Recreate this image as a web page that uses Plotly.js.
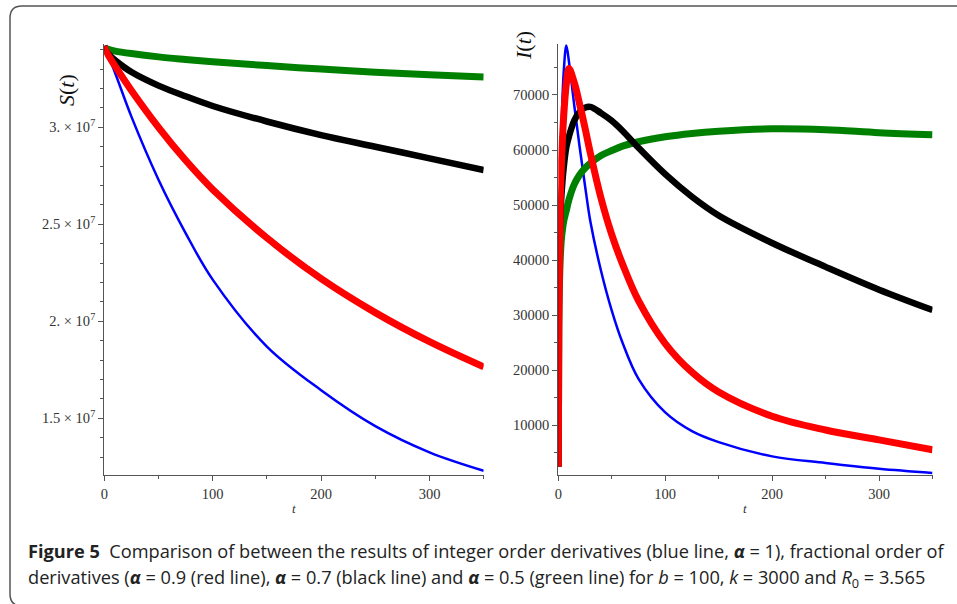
<!DOCTYPE html>
<html>
<head>
<meta charset="utf-8">
<script src="https://cdn.plot.ly/plotly-3.0.1.min.js"></script>
<style>
html,body{margin:0;padding:0;background:#fff;}
#chart{width:957px;height:604px;}
</style>
</head>
<body>
<div id="chart"></div>
<script>
// ---- Data ----
// Left panel: S(t)
const tS = [0, 1, 5, 10, 25, 50, 75, 100, 150, 200, 250, 300, 350];
const S_alpha1  = [3.42e7, 3.405e7, 3.35e7, 3.28e7, 3.055e7, 2.73e7, 2.455e7, 2.215e7, 1.87e7, 1.645e7, 1.46e7, 1.325e7, 1.23e7];
const S_alpha09 = [3.42e7, 3.40e7, 3.36e7, 3.315e7, 3.19e7, 3.00e7, 2.83e7, 2.68e7, 2.43e7, 2.22e7, 2.045e7, 1.895e7, 1.765e7];
const S_alpha07 = [3.42e7, 3.40e7, 3.37e7, 3.345e7, 3.285e7, 3.215e7, 3.16e7, 3.11e7, 3.03e7, 2.96e7, 2.90e7, 2.84e7, 2.78e7];
const S_alpha05 = [3.42e7, 3.41e7, 3.40e7, 3.393e7, 3.38e7, 3.363e7, 3.35e7, 3.338e7, 3.318e7, 3.30e7, 3.284e7, 3.271e7, 3.259e7];

// Right panel: I(t)
const tI = [0, 0.5, 1, 2, 3, 5, 7.5, 10, 15, 20, 25, 30, 40, 50, 60, 75, 100, 125, 150, 200, 250, 300, 350];
const I_alpha1  = [2400, 22000, 40000, 57000, 64000, 74000, 79000, 76000, 68000, 60500, 53500, 47000, 38000, 30800, 25000, 18400, 12300, 8900, 6900, 4300, 3100, 2050, 1300];
const I_alpha09 = [2400, 28000, 38000, 52000, 58000, 66000, 72000, 74800, 72200, 68300, 64000, 59400, 51200, 44600, 39300, 32600, 24800, 19600, 16000, 11600, 9100, 7300, 5500];
const I_alpha07 = [2400, 35000, 42000, 48500, 52000, 56700, 60500, 62500, 65400, 66900, 67700, 67850, 66700, 65300, 63500, 60400, 55600, 51500, 48100, 43100, 38750, 34600, 30900];
const I_alpha05 = [2400, 28000, 35000, 41000, 44000, 47000, 49000, 51000, 53800, 55500, 56700, 57600, 59000, 59900, 60700, 61500, 62400, 63000, 63400, 63850, 63700, 63150, 62770];

const leftYTickVals = [1.5e7, 2e7, 2.5e7, 3e7];
const leftYTickText = ['1.5 × 10<sup>7</sup>', '2. × 10<sup>7</sup>', '2.5 × 10<sup>7</sup>', '3. × 10<sup>7</sup>'];
const xTickVals = [0, 100, 200, 300];
const rightYTickVals = [10000, 20000, 30000, 40000, 50000, 60000, 70000];
const rightYTickText = ['10000', '20000', '30000', '40000', '50000', '60000', '70000'];

const series = [
  {name: 'α = 1',   color: '#0000ff', width: 2.5, S: S_alpha1,  I: I_alpha1},
  {name: 'α = 0.5', color: '#008000', width: 7,   S: S_alpha05, I: I_alpha05},
  {name: 'α = 0.7', color: '#000000', width: 6.5, S: S_alpha07, I: I_alpha07},
  {name: 'α = 0.9', color: '#ff0000', width: 7,   S: S_alpha09, I: I_alpha09}
];

// ---- Traces ----
const traces = [];
series.forEach(s => {
  traces.push({x: tS, y: s.S, xaxis: 'x', yaxis: 'y', mode: 'lines', name: s.name,
    line: {color: s.color, width: s.width, shape: 'spline', smoothing: 1.0}, showlegend: false, hoverinfo: 'skip'});
  traces.push({x: tI, y: s.I, xaxis: 'x2', yaxis: 'y2', mode: 'lines', name: s.name,
    line: {color: s.color, width: s.width, shape: 'spline', smoothing: 1.0}, showlegend: false, hoverinfo: 'skip'});
});

// ---- Layout helpers (pixel -> paper) ----
const W = 957, H = 604;
const px = v => v / W;
const py = v => 1 - v / H;

const tickFont = {family: 'Liberation Serif, Times New Roman, serif', size: 14.5, color: '#333333'};
const axisCommon = {
  showgrid: false, zeroline: false, showline: true, linecolor: '#555555', linewidth: 1.2,
  ticks: 'outside', ticklen: 5, tickcolor: '#555555', tickwidth: 1, tickfont: tickFont, fixedrange: true
};

const layout = {
  width: W, height: H,
  margin: {l: 0, r: 0, t: 0, b: 0},
  paper_bgcolor: '#ffffff', plot_bgcolor: '#ffffff',
  showlegend: false,
  xaxis: Object.assign({}, axisCommon, {
    domain: [px(104.3), px(483.7)], range: [0, 350], anchor: 'y',
    tickmode: 'array', tickvals: xTickVals,
    minor: {tickmode: 'linear', tick0: 0, dtick: 50, ticklen: 3, tickcolor: '#555555', ticks: 'outside'}
  }),
  yaxis: Object.assign({}, axisCommon, {
    domain: [py(475), py(44)], range: [1.208e7, 3.4294e7], anchor: 'x',
    tickmode: 'array', tickvals: leftYTickVals, ticktext: leftYTickText,
    minor: {tickmode: 'linear', tick0: 0, dtick: 1e6, ticklen: 3, tickcolor: '#555555', ticks: 'outside'}
  }),
  xaxis2: Object.assign({}, axisCommon, {
    domain: [px(558.3), px(932.5)], range: [0, 350], anchor: 'y2',
    tickmode: 'array', tickvals: xTickVals,
    minor: {tickmode: 'linear', tick0: 0, dtick: 50, ticklen: 3, tickcolor: '#555555', ticks: 'outside'}
  }),
  yaxis2: Object.assign({}, axisCommon, {
    domain: [py(475), py(44)], range: [916, 79270], anchor: 'x2',
    tickmode: 'array', tickvals: rightYTickVals, ticktext: rightYTickText,
    minor: {tickmode: 'linear', tick0: 0, dtick: 5000, ticklen: 3, tickcolor: '#555555', ticks: 'outside'}
  }),
  annotations: [
    {text: '<i>S</i>(<i>t</i>)', xref: 'paper', yref: 'paper', x: px(67), y: py(90), textangle: -90,
     showarrow: false, xanchor: 'center', yanchor: 'middle',
     font: {family: 'Liberation Serif, Times New Roman, serif', size: 22, color: '#111'}},
    {text: '<i>I</i>(<i>t</i>)', xref: 'paper', yref: 'paper', x: px(523), y: py(46), textangle: -90,
     showarrow: false, xanchor: 'center', yanchor: 'middle',
     font: {family: 'Liberation Serif, Times New Roman, serif', size: 22, color: '#111'}},
    {text: '<i>t</i>', xref: 'paper', yref: 'paper', x: px(294), y: py(508), showarrow: false,
     xanchor: 'center', yanchor: 'middle', font: {family: 'Liberation Serif, serif', size: 13, color: '#333'}},
    {text: '<i>t</i>', xref: 'paper', yref: 'paper', x: px(745), y: py(508), showarrow: false,
     xanchor: 'center', yanchor: 'middle', font: {family: 'Liberation Serif, serif', size: 13, color: '#333'}},
    {text: '<b>Figure 5</b>  Comparison of between the results of integer order derivatives (blue line, <b><i>α</i></b> = 1), fractional order of',
     xref: 'paper', yref: 'paper', x: px(26), y: py(551), showarrow: false, xanchor: 'left', yanchor: 'middle',
     font: {family: 'Open Sans, sans-serif', size: 18.2, color: '#222'}},
    {text: 'derivatives (<b><i>α</i></b> = 0.9 (red line), <b><i>α</i></b> = 0.7 (black line) and <b><i>α</i></b> = 0.5 (green line) for <i>b</i> = 100, <i>k</i> = 3000 and <i>R</i><sub>0</sub> = 3.565',
     xref: 'paper', yref: 'paper', x: px(26), y: py(578), showarrow: false, xanchor: 'left', yanchor: 'middle',
     font: {family: 'Open Sans, sans-serif', size: 18.2, color: '#222'}}
  ],
  shapes: [
    {type: 'path', xref: 'paper', yref: 'paper', layer: 'above',
     path: 'M ' + px(965) + ',' + py(6) + ' L ' + px(22) + ',' + py(6) +
           ' Q ' + px(10) + ',' + py(6) + ' ' + px(10) + ',' + py(18) +
           ' L ' + px(10) + ',' + py(594) +
           ' Q ' + px(10) + ',' + py(606) + ' ' + px(22) + ',' + py(606),
     line: {color: '#555555', width: 1.5}}
  ]
};

Plotly.newPlot('chart', traces, layout, {staticPlot: true, displayModeBar: false});
</script>
</body>
</html>
